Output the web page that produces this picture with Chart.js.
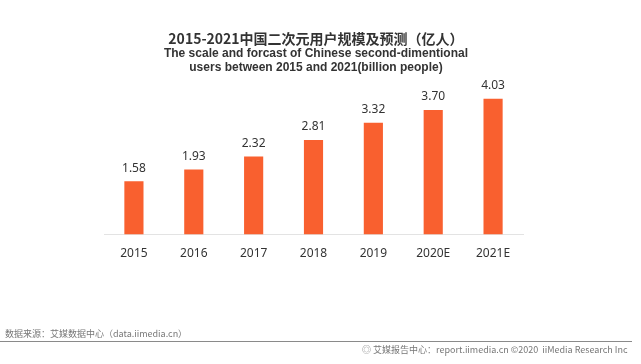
<!DOCTYPE html>
<html>
<head>
<meta charset="utf-8">
<script src="https://cdn.jsdelivr.net/npm/chart.js@4"></script>
<style>
    body { margin: 0; background: #fff; width: 641px; height: 364px; overflow: hidden; position: relative; }
    #wrap { position: absolute; left: 0; top: 0; width: 641px; height: 364px; }
    .title { position: absolute; left: 0; width: 632px; text-align: center; color: #333; white-space: nowrap; line-height: 16px; }
    #t1 { top: 30px; font-weight: bold; font-size: 14px; font-family: "Noto Sans CJK SC", sans-serif; }
    #t2 { top: 45px; font-weight: bold; font-size: 12px; font-family: "Liberation Sans", sans-serif; }
    #t3 { top: 59px; font-weight: bold; font-size: 12px; font-family: "Liberation Sans", sans-serif; }
    .foot { position: absolute; color: #777; font: 9px "Noto Sans CJK SC", sans-serif; white-space: nowrap; }
    #src { left: 5px; top: 327px; }
    #rule { position: absolute; left: 0; top: 341px; width: 632px; height: 0; border-top: 1.5px solid #8a8a8a; }
    #copy { left: 362px; top: 343px; }
</style>
</head>
<body>
<div id="wrap"><canvas id="barChart" width="641" height="364"></canvas></div>
<div class="title" id="t1">2015-2021中国二次元用户规模及预测（亿人）</div>
<div class="title" id="t2">The scale and forcast of Chinese second-dimentional</div>
<div class="title" id="t3">users between 2015 and 2021(billion people)</div>
<div class="foot" id="src">数据来源：艾媒数据中心（data.iimedia.cn）</div>
<div id="rule"></div>
<div class="foot" id="copy">◎ 艾媒报告中心：report.iimedia.cn ©2020&nbsp; iiMedia Research Inc</div>
<script>
const years = ['2015', '2016', '2017', '2018', '2019', '2020E', '2021E'];
const users = [1.58, 1.93, 2.32, 2.81, 3.32, 3.70, 4.03];

// value labels above each bar
const valueLabels = {
    id: 'valueLabels',
    afterDatasetsDraw(chart) {
        const ctx = chart.ctx;
        ctx.save();
        ctx.font = '12px "Noto Sans", sans-serif';
        ctx.fillStyle = '#333';
        ctx.textAlign = 'center';
        ctx.textBaseline = 'middle';
        chart.getDatasetMeta(0).data.forEach((bar, i) => {
            ctx.fillText(users[i].toFixed(2), bar.x, bar.y - 13);
        });
        ctx.restore();
    }
};

const ctx = document.getElementById('barChart').getContext('2d');
new Chart(ctx, {
    type: 'bar',
    data: {
        labels: years,
        datasets: [{
            data: users,
            backgroundColor: '#f9602f',
            barPercentage: 0.32,
            categoryPercentage: 1
        }]
    },
    options: {
        responsive: false,
        animation: false,
        layout: { padding: { left: 104, right: 118, top: 83, bottom: 99 } },
        plugins: { legend: { display: false }, tooltip: { enabled: false } },
        scales: {
            x: {
                grid: { display: false },
                border: { display: true, color: '#e3e3e3', width: 1 },
                ticks: { color: '#333', padding: 4, font: { family: '"Noto Sans", sans-serif', size: 12 } }
            },
            y: {
                display: false,
                min: 0,
                max: 4.5
            }
        }
    },
    plugins: [valueLabels]
});
</script>
</body>
</html>
